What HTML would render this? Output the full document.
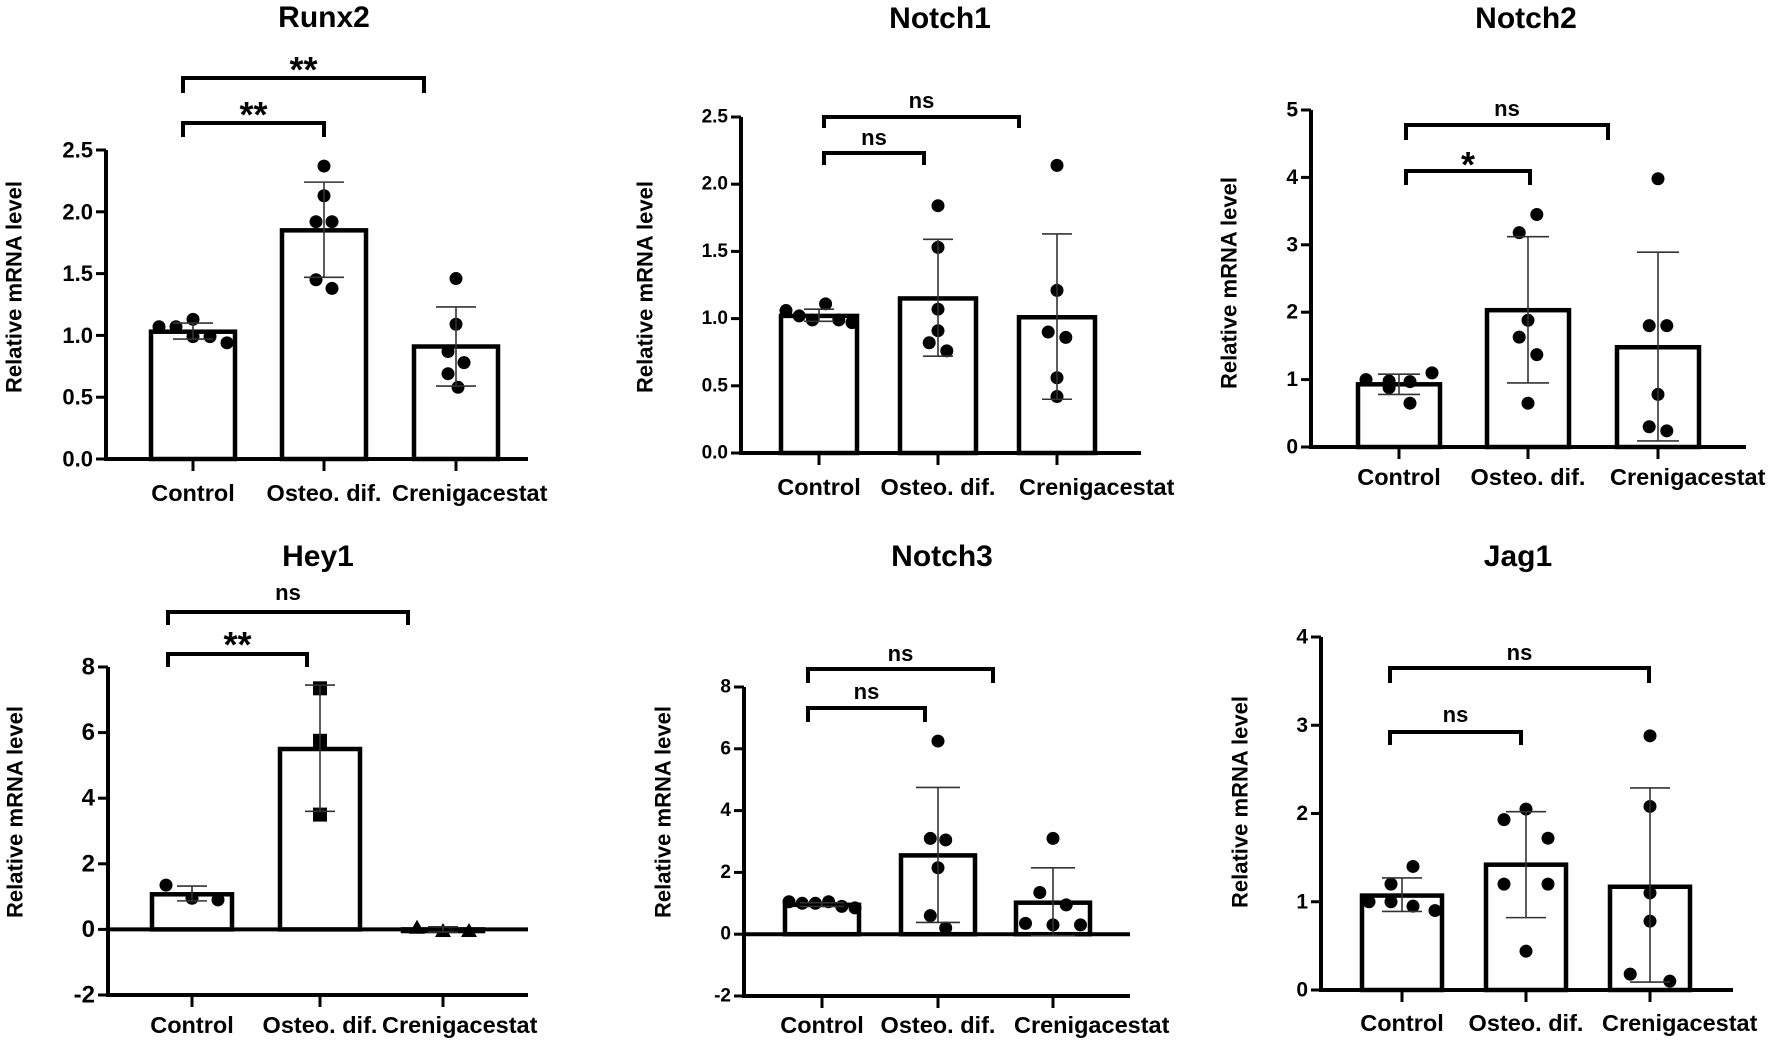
<!DOCTYPE html>
<html><head><meta charset="utf-8"><style>
html,body{margin:0;padding:0;background:#fff;}
svg{display:block;font-family:"Liberation Sans",Arial,sans-serif;font-weight:bold;}
</style></head><body>
<svg id="fig" width="1772" height="1041" viewBox="0 0 1772 1041" xmlns="http://www.w3.org/2000/svg"></svg>
<script>
const categories=["Control","Osteo. dif.","Crenigacestat"];
// Runx2
const runx2Points=[[1.07,1.07,1.13,0.99,0.99,0.94],[2.37,2.13,1.92,1.92,1.45,1.38],[1.46,1.09,0.87,0.78,0.69,0.58]];
const runx2Means=[1.03,1.85,0.91];
const runx2Lo=[0.97,1.47,0.59];
const runx2Hi=[1.10,2.24,1.23];
const runx2Ticks=[0,0.5,1,1.5,2,2.5];
const runx2TickLabels=["0.0","0.5","1.0","1.5","2.0","2.5"];
const runx2Sig=["**","**"];
// Notch1
const notch1Points=[[1.06,1.02,0.99,1.11,0.99,0.97],[1.84,1.53,1.07,0.91,0.82,0.76],[2.14,1.21,0.90,0.86,0.56,0.42]];
const notch1Means=[1.02,1.15,1.01];
const notch1Lo=[0.98,0.72,0.40];
const notch1Hi=[1.07,1.59,1.63];
const notch1Ticks=[0,0.5,1,1.5,2,2.5];
const notch1TickLabels=["0.0","0.5","1.0","1.5","2.0","2.5"];
const notch1Sig=["ns","ns"];
// Notch2
const notch2Points=[[1.0,0.98,0.88,0.97,1.1,0.65],[3.45,3.18,1.88,1.63,1.37,0.65],[3.98,1.8,1.8,0.78,0.3,0.24]];
const notch2Means=[0.93,2.03,1.48];
const notch2Lo=[0.78,0.95,0.09];
const notch2Hi=[1.08,3.12,2.89];
const notch2Ticks=[0,1,2,3,4,5];
const notch2TickLabels=["0","1","2","3","4","5"];
const notch2Sig=["*","ns"];
// Hey1
const hey1Points=[[1.35,0.95,0.9],[7.35,5.75,3.5],[0.05,-0.05,-0.05]];
const hey1Means=[1.07,5.5,-0.05];
const hey1Lo=[0.87,3.6,-0.08];
const hey1Hi=[1.32,7.45,0.08];
const hey1Ticks=[-2,0,2,4,6,8];
const hey1TickLabels=["-2","0","2","4","6","8"];
const hey1Sig=["**","ns"];
// Notch3
const notch3Points=[[1.05,1.0,1.0,1.05,0.9,0.85],[6.25,3.1,3.05,2.15,0.6,0.2],[3.1,1.35,0.95,0.35,0.3,0.3]];
const notch3Means=[0.95,2.55,1.02];
const notch3Lo=[0.9,0.38,-0.05];
const notch3Hi=[1.02,4.75,2.15];
const notch3Ticks=[-2,0,2,4,6,8];
const notch3TickLabels=["-2","0","2","4","6","8"];
const notch3Sig=["ns","ns"];
// Jag1
const jag1Points=[[1.0,1.0,1.2,1.4,0.95,0.9],[1.93,2.05,1.72,1.2,1.2,0.44],[2.88,2.08,1.1,0.78,0.18,0.1]];
const jag1Means=[1.07,1.42,1.17];
const jag1Lo=[0.89,0.82,0.09];
const jag1Hi=[1.27,2.02,2.29];
const jag1Ticks=[0,1,2,3,4];
const jag1TickLabels=["0","1","2","3","4"];
const jag1Sig=["ns","ns"];

const NS="http://www.w3.org/2000/svg";
const svg=document.getElementById('fig');
function mk(tag,attrs,parent){const e=document.createElementNS(NS,tag);for(const k in attrs)e.setAttribute(k,attrs[k]);(parent||svg).appendChild(e);return e;}

const panels=[
 {name:"runx2",title:"Runx2",pts:runx2Points,means:runx2Means,lo:runx2Lo,hi:runx2Hi,ticks:runx2Ticks,tl:runx2TickLabels,sig:runx2Sig,
  ax:106,axEnd:528,vMin:0,vMax:2.5,pTop:150,pBot:459,centers:[193,324,456],creStart:392,bw:84,tfs:22,cfs:23.5,catY:501,jit:1,cap:20,
  titleX:324,titleY:27,ylabX:14,ylabY:287,br:[[123,137,183,324,115],[78,93,183,424,70]],
  off:[[-34,-17,0,0,17,34],[0,0,-8,8,-8,8],[0,0,-8,8,-8,2]],shapes:["c","c","c"]},
 {name:"notch1",title:"Notch1",pts:notch1Points,means:notch1Means,lo:notch1Lo,hi:notch1Hi,ticks:notch1Ticks,tl:notch1TickLabels,sig:notch1Sig,
  ax:741,axEnd:1141,vMin:0,vMax:2.5,pTop:117,pBot:453,centers:[819,938,1057],creStart:1019,bw:76,tfs:19,cfs:23.5,catY:495,jit:1.1,cap:15,
  titleX:940,titleY:28,ylabX:645,ylabY:287,br:[[153,165,824,924,145],[117,128,824,1019,108]],
  off:[[-30,-18,-6,6,18,30],[0,0,0,0,-8,8],[0,0,-8,8,0,0]],shapes:["c","c","c"]},
 {name:"notch2",title:"Notch2",pts:notch2Points,means:notch2Means,lo:notch2Lo,hi:notch2Hi,ticks:notch2Ticks,tl:notch2TickLabels,sig:notch2Sig,
  ax:1311,axEnd:1746,vMin:0,vMax:5,pTop:110,pBot:447,centers:[1399,1528,1658],creStart:1610,bw:82,tfs:21,cfs:23.5,catY:485,jit:1.1,cap:21,
  titleX:1526,titleY:28,ylabX:1229,ylabY:283,br:[[171,185,1406,1530,165],[125,140,1406,1608,116]],
  off:[[-30,-9,-9,10,30,10],[8,-8,0,-8,8,0],[0,-8,8,0,-8,8]],shapes:["c","c","c"]},
 {name:"hey1",title:"Hey1",pts:hey1Points,means:hey1Means,lo:hey1Lo,hi:hey1Hi,ticks:hey1Ticks,tl:hey1TickLabels,sig:hey1Sig,
  ax:108,axEnd:528,vMin:-2,vMax:8,pTop:667,pBot:995,centers:[192,320,443],creStart:382,bw:80,tfs:24,cfs:23.5,catY:1033,zero:true,jit:1,cap:15,
  titleX:318,titleY:566,ylabX:15,ylabY:812,br:[[654,667,168,307,645],[612,625,168,408,600]],
  off:[[-26,0,26],[0,0,0],[-26,0,26]],shapes:["c","s","t"]},
 {name:"notch3",title:"Notch3",pts:notch3Points,means:notch3Means,lo:notch3Lo,hi:notch3Hi,ticks:notch3Ticks,tl:notch3TickLabels,sig:notch3Sig,
  ax:744,axEnd:1130,vMin:-2,vMax:8,pTop:687,pBot:996,centers:[822,938,1053],creStart:1014,bw:74,tfs:19,cfs:23.5,catY:1033,zero:true,jit:1.1,cap:22,
  titleX:942,titleY:566,ylabX:663,ylabY:812,br:[[708,722,808,925,699],[669,683,808,993,661]],
  off:[[-30,-18,-6,6,18,30],[0,-7,7,0,-7,7],[0,-12,12,-25,0,25]],shapes:["c","c","c"]},
 {name:"jag1",title:"Jag1",pts:jag1Points,means:jag1Means,lo:jag1Lo,hi:jag1Hi,ticks:jag1Ticks,tl:jag1TickLabels,sig:jag1Sig,
  ax:1321,axEnd:1733,vMin:0,vMax:4,pTop:637,pBot:990,centers:[1402,1526,1650],creStart:1602,bw:80,tfs:21,cfs:23.5,catY:1031,jit:1.1,cap:20,
  titleX:1518,titleY:566,ylabX:1240,ylabY:802,br:[[732,745,1390,1521,722],[668,683,1390,1649,660]],
  off:[[-30,-10,-10,10,10,30],[-20,0,20,-20,20,0],[0,0,0,0,-18,18]],shapes:["c","c","c"]}
];

panels.forEach(p=>{
  const g=mk('g',{});
  
  
  const y=v=>p.pBot-(v-p.vMin)/(p.vMax-p.vMin)*(p.pBot-p.pTop);
  const t=mk('text',{x:p.titleX,y:p.titleY,'text-anchor':'middle','font-size':30},g);t.textContent=p.title;
  
  const yl=mk('text',{x:p.ylabX,y:p.ylabY,'text-anchor':'middle','font-size':22,transform:`rotate(-90 ${p.ylabX} ${p.ylabY})`,dy:'0.35em'},g);
  yl.textContent="Relative mRNA level";
  
  const ya=mk('line',{x1:p.ax,y1:p.pTop,x2:p.ax,y2:p.pBot+2,stroke:'#000','stroke-width':4},g);
  
  p.ticks.forEach((v,i)=>{
    const ty=y(v);
    mk('line',{x1:p.ax-10,y1:ty,x2:p.ax,y2:ty,stroke:'#000','stroke-width':3},g);
    const tl=mk('text',{x:p.ax-13,y:ty,'text-anchor':'end','dominant-baseline':'central','font-size':p.tfs},g);
    tl.textContent=p.tl[i];
    
  });
  const xa=mk('line',{x1:p.ax-2,y1:p.pBot,x2:p.axEnd,y2:p.pBot,stroke:'#000','stroke-width':4},g);
  
  categories.forEach((c,i)=>{
    mk('line',{x1:p.centers[i],y1:p.pBot,x2:p.centers[i],y2:p.pBot+12,stroke:'#000','stroke-width':3},g);
    const last=i===categories.length-1;
    const cl=mk('text',{x:last?p.creStart:p.centers[i],y:p.catY,'text-anchor':last?'start':'middle','font-size':p.cfs},g);
    cl.textContent=c;
    
  });
  if(p.zero){
    const z=mk('line',{x1:p.ax,y1:y(0),x2:p.axEnd,y2:y(0),stroke:'#000','stroke-width':4},g);
    
  }
  p.means.forEach((m,i)=>{
    const y0=y(0),ym=y(m);
    const b=mk('rect',{x:p.centers[i]-p.bw/2,y:Math.min(y0,ym),width:p.bw,height:Math.max(Math.abs(y0-ym),1),fill:'#fff',stroke:'#000','stroke-width':4.5},g);
    
    
  });
  p.pts.forEach((arr,i)=>{
    arr.forEach((v,j)=>{
      const cx=p.centers[i]+(p.off[i][j]||0)*p.jit,cy=y(v);let e;
      if(p.shapes[i]==='s') e=mk('rect',{x:cx-7,y:cy-7,width:14,height:14,fill:'#000'},g);
      else if(p.shapes[i]==='t') e=mk('polygon',{points:`${cx},${cy-8} ${cx-8},${cy+6} ${cx+8},${cy+6}`,fill:'#000'},g);
      else e=mk('circle',{cx:cx,cy:cy,r:6.5,fill:'#000'},g);
      
      
    });
  });
  p.means.forEach((m,i)=>{
    const cx=p.centers[i];
    const eg=mk('g',{stroke:'#333','stroke-width':1.6},g);
    
    
    mk('line',{x1:cx,y1:y(p.lo[i]),x2:cx,y2:y(p.hi[i])},eg);
    mk('line',{x1:cx-p.cap,y1:y(p.lo[i]),x2:cx+p.cap,y2:y(p.lo[i])},eg);
    mk('line',{x1:cx-p.cap,y1:y(p.hi[i]),x2:cx+p.cap,y2:y(p.hi[i])},eg);
  });
  p.br.forEach((b,k)=>{
    const [by,leg,x1,x2,ty]=b;
    const pl=mk('polyline',{points:`${x1},${leg} ${x1},${by} ${x2},${by} ${x2},${leg}`,fill:'none',stroke:'#000','stroke-width':4},g);
    
    const isStar=p.sig[k].indexOf('*')>=0;
    const st=mk('text',{x:(x1+x2)/2,y:isStar?ty+12:ty,'text-anchor':'middle','font-size':isStar?36:22},g);
    st.textContent=p.sig[k];
    
  });
});
</script>
</body></html>
